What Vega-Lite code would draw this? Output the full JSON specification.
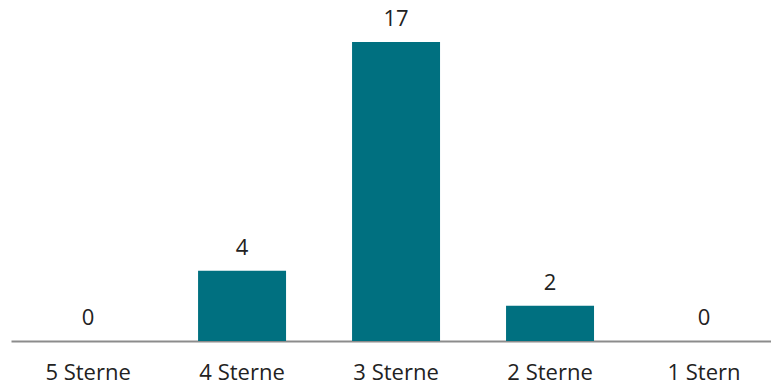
{
  "$schema": "https://vega.github.io/schema/vega-lite/v6.json",
  "width": 760,
  "height": 299,
  "autosize": {"type": "none"},
  "padding": {"left": 11, "top": 42, "right": 0, "bottom": 42},
  "background": "white",
  "config": {"view": {"stroke": null}},
  "data": {
    "values": [
      {"rating": "5 Sterne", "count": 0},
      {"rating": "4 Sterne", "count": 4},
      {"rating": "3 Sterne", "count": 17},
      {"rating": "2 Sterne", "count": 2},
      {"rating": "1 Stern", "count": 0}
    ]
  },
  "encoding": {
    "x": {
      "field": "rating",
      "type": "nominal",
      "sort": null,
      "scale": {"paddingInner": 0.4286, "paddingOuter": 0.182, "align": 0.59},
      "axis": {
        "title": null,
        "labelAngle": 0,
        "ticks": false,
        "domainColor": "#8c8c8c",
        "domainWidth": 2,
        "labelFont": "Open Sans",
        "labelFontSize": 22,
        "labelColor": "#222222",
        "labelBaseline": "alphabetic",
        "labelPadding": 38
      }
    },
    "y": {
      "field": "count",
      "type": "quantitative",
      "scale": {"domain": [0, 17], "nice": false},
      "axis": null
    }
  },
  "layer": [
    {"mark": {"type": "bar", "color": "#007080"}},
    {
      "mark": {
        "type": "text",
        "baseline": "alphabetic",
        "dy": -16,
        "font": "Open Sans",
        "fontSize": 22,
        "color": "#222222"
      },
      "encoding": {"text": {"field": "count", "type": "quantitative"}}
    }
  ]
}
